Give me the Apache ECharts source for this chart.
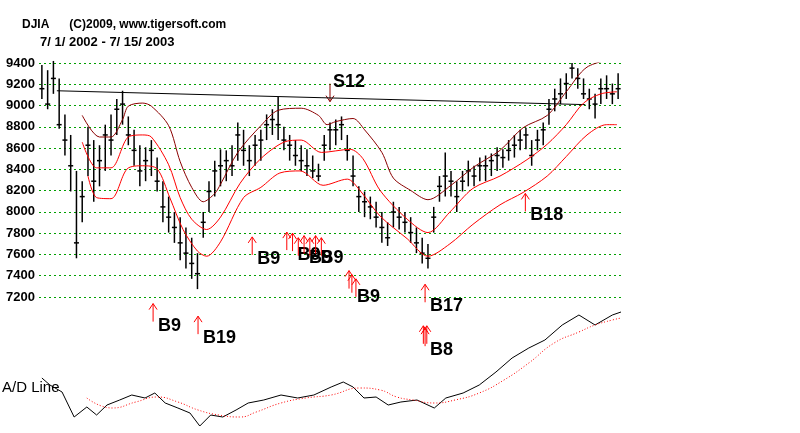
<!DOCTYPE html>
<html>
<head>
<meta charset="utf-8">
<script src="https://cdn.jsdelivr.net/npm/echarts@6/dist/echarts.min.js"></script>
<style>
  html, body { margin: 0; padding: 0; background: #fff; }
  #chart { width: 800px; height: 433px; }
</style>
</head>
<body>
<div id="chart"></div>
<script>
// DJIA daily bars, 7/1/2002 - 7/15/2003 (sampled), index = bar number
var highs = [9380, 9330, 9420, 9250, 8900, 8700, 8350, 8250, 8780, 8650,
  8600, 8800, 8900, 9050, 9130, 8880, 8750, 8600, 8580, 8650,
  8480, 8250, 8100, 7950, 7900, 7800, 7700, 7550, 7950, 8250,
  8450, 8560, 8550, 8600, 8820, 8750, 8600, 8700, 8750, 8900,
  8950, 9070, 8780, 8700, 8650, 8600, 8560, 8500, 8420, 8700,
  8820, 8850, 8880, 8700, 8500, 8200, 8150, 8100, 8050, 7950,
  7850, 8050, 8000, 7950, 7900, 7800, 7700, 7640, 8000, 8300,
  8530, 8350, 8250, 8350, 8450, 8400, 8480, 8500, 8520, 8580,
  8560, 8650, 8700, 8750, 8770, 8650, 8750, 8820, 9050, 9150,
  9250, 9300, 9400, 9350, 9250, 9150, 9100, 9250, 9280, 9200, 9300];
var lows = [9050, 8950, 9100, 8760, 8500, 8150, 7500, 7850, 8300, 8050,
  8200, 8350, 8500, 8700, 8800, 8600, 8400, 8200, 8250, 8300,
  8150, 7850, 7750, 7650, 7480, 7400, 7300, 7200, 7700, 7950,
  8100, 8200, 8250, 8300, 8450, 8400, 8300, 8400, 8450, 8650,
  8700, 8650, 8550, 8450, 8400, 8350, 8300, 8280, 8250, 8450,
  8550, 8600, 8650, 8450, 8200, 7950, 7900, 7880, 7800, 7650,
  7620, 7800, 7780, 7750, 7650, 7550, 7450, 7400, 7750, 8050,
  8100, 8100, 7950, 8150, 8200, 8200, 8250, 8250, 8300, 8350,
  8380, 8450, 8480, 8550, 8560, 8400, 8550, 8600, 8800, 8930,
  9000, 9050, 9250, 9150, 9050, 8950, 8860, 9000, 9050, 9000, 9050];
var closes = [9150, 9000, 9250, 8800, 8650, 8400, 7650, 8100, 8600, 8250,
  8450, 8700, 8650, 8950, 9000, 8700, 8550, 8350, 8450, 8550,
  8250, 8000, 7900, 7800, 7650, 7550, 7450, 7350, 7850, 8150,
  8350, 8400, 8450, 8400, 8700, 8550, 8450, 8600, 8650, 8800,
  8850, 8800, 8650, 8600, 8500, 8450, 8400, 8350, 8300, 8600,
  8750, 8750, 8800, 8550, 8300, 8100, 8050, 8000, 7900, 7800,
  7700, 7950, 7900, 7850, 7750, 7650, 7550, 7500, 7900, 8200,
  8300, 8250, 8100, 8250, 8350, 8300, 8400, 8400, 8450, 8500,
  8480, 8550, 8600, 8650, 8700, 8500, 8650, 8750, 8950, 9050,
  9100, 9200, 9350, 9250, 9100, 9050, 9000, 9150, 9150, 9100, 9150];

// bands: [bar index, price]
var upperBand = [[7, 8890], [10, 8680], [12, 8680], [14, 8850], [15, 8980], [17.5, 9010], [19, 8980],
  [22, 8790], [24, 8440], [26, 8190], [28, 8050], [30, 8130], [31, 8220], [34, 8530], [38, 8790],
  [41, 8940], [45, 8960], [48, 8890], [49.5, 8800], [51, 8830], [54, 8860], [56, 8750], [59, 8530],
  [61, 8280], [64, 8160], [67, 8070], [71, 8210], [75, 8390], [79.5, 8550], [83.5, 8770],
  [87.7, 8890], [91, 9120], [94.6, 9360], [99.8, 9450]];
var midBand = [[7, 8630], [9.5, 8380], [12, 8380], [15, 8680], [17.5, 8700], [19, 8680], [22, 8410],
  [24, 8090], [26, 7880], [28.6, 7780], [31, 7900], [34.4, 8230], [38, 8470], [42, 8630], [45, 8650],
  [48.5, 8530], [53.5, 8560], [55.7, 8470], [58.7, 8160], [63.4, 7880], [67, 7750], [70.8, 7950],
  [74.8, 8180], [79.5, 8300], [84.2, 8460], [87.7, 8610], [91, 8800], [94, 9010], [97, 9100], [99.8, 9120]];
var lowerBand = [[8, 8300], [9.5, 8090], [12, 8080], [14.8, 8370], [17.5, 8400], [20, 8370], [22.2, 8090],
  [24.5, 7780], [27, 7570], [28.6, 7520], [31, 7660], [35, 8090], [38, 8190], [41.3, 8330], [44.8, 8350],
  [48.8, 8210], [53, 8270], [55.2, 8160], [58.7, 7910], [63.4, 7690], [67, 7520], [70.8, 7640],
  [74.8, 7830], [79.5, 8020], [83.5, 8140], [87.7, 8300], [91, 8490], [94.6, 8700], [98, 8800], [99.8, 8800]];
var trendLine = [[2.6, 9130], [94.3, 8995]];

// signals: [bar index, arrow tip price, label, direction]
var signals = [
  [50, 9024, 'S12', 'down'],
  [19.3, 7059, 'B9', 'up'],
  [27.1, 6937, 'B19', 'up'],
  [36.5, 7708, 'B9', 'up'],
  [42.5, 7755, '', 'up'], [43.5, 7745, 'B9', 'up'], [44.5, 7700, '', 'up'], [45.5, 7720, 'B9', 'up'],
  [46.5, 7700, '', 'up'], [47.5, 7720, 'B9', 'up'], [48.5, 7700, '', 'up'],
  [53.3, 7380, '', 'up'], [53.8, 7340, 'B9', 'up'], [54.5, 7300, '', 'up'],
  [66.5, 7247, 'B17', 'up'],
  [66.2, 6843, '', 'up'], [66.5, 6820, 'B8', 'up'], [66.8, 6843, '', 'up'],
  [83.9, 8131, 'B18', 'up']
];

// A/D line (arbitrary units) and its moving average: [bar index, value]
var adLine = [[0, 550], [1.4, 480], [3.5, 410], [5.6, 160], [7.8, 260], [9.5, 180], [11.3, 280],
  [13.5, 330], [15.6, 380], [17.9, 350], [19.6, 400], [21.4, 300], [23.6, 250], [25.7, 200],
  [27.4, 70], [29.3, 180], [31.4, 160], [33.7, 230], [35.8, 300], [38.5, 330], [41.5, 380],
  [44.4, 350], [47.2, 380], [50.2, 460], [52.3, 510], [54, 460], [55.9, 350], [58, 360],
  [60.1, 280], [62.3, 310], [65.1, 330], [68.1, 250], [70.1, 350], [73.1, 400], [75.9, 480],
  [78.8, 610], [81.6, 750], [84.5, 850], [87.3, 930], [90.3, 1080], [93.2, 1180], [96, 1080],
  [99, 1180], [100.5, 1210]];
var adAvg = [[7.8, 350], [12.2, 250], [16.3, 310], [20, 360], [23.6, 310], [27.1, 230], [30.7, 180],
  [34.4, 160], [37.2, 210], [41.5, 300], [45.8, 350], [50.2, 380], [55.2, 450], [58.7, 430],
  [61.6, 360], [64.4, 330], [68.1, 300], [71.7, 330], [75.9, 400], [80.2, 530], [84.5, 700],
  [88.9, 900], [93.2, 1010], [96, 1080], [99, 1130], [100.5, 1150]];

var priceTicks = [7200, 9400];

var barData = closes.map(function (c, i) { return [i, highs[i], lows[i], c]; });

var chart = echarts.init(document.getElementById('chart'));

var option = {
  backgroundColor: '#fff',
  animation: false,
  grid: [
    { left: 39, right: 179, top: 63, height: 234 },
    { left: 39, right: 179, top: 63, height: 383 },
    { left: 39, right: 179, top: 300, height: 133 }
  ],
  xAxis: [
    { gridIndex: 0, type: 'value', min: -0.5, max: 100.5, show: false },
    { gridIndex: 1, type: 'value', min: -0.5, max: 100.5, show: false },
    { gridIndex: 2, type: 'value', min: -0.5, max: 100.5, show: false }
  ],
  yAxis: [
    {
      gridIndex: 0, type: 'value', min: priceTicks[0], max: priceTicks[1], interval: 200,
      axisLine: { show: false }, axisTick: { show: false },
      axisLabel: {
        color: '#000', fontWeight: 'bold', fontSize: 13, fontFamily: 'Liberation Sans', margin: 4,
        formatter: function (v) { return String(v); }
      },
      splitLine: { lineStyle: { color: '#00a000', type: [2, 3], width: 1 } }
    },
    { gridIndex: 1, type: 'value', min: 5800, max: 9400, show: false },
    { gridIndex: 2, type: 'value', min: 0, max: 1330, show: false }
  ],
  graphic: [
    { type: 'text', left: 22, top: 19, style: { text: 'DJIA      (C)2009, www.tigersoft.com', font: 'bold 12px "Liberation Sans"', fill: '#000' } },
    { type: 'text', left: 40, top: 36, style: { text: '7/ 1/ 2002 - 7/ 15/ 2003', font: 'bold 13px "Liberation Sans"', fill: '#000' } },
    { type: 'text', left: 2, top: 380, style: { text: 'A/D Line', font: '15px "Liberation Sans"', fill: '#000' } }
  ],
  series: [
    {
      type: 'line', xAxisIndex: 1, yAxisIndex: 1, data: trendLine, symbol: 'none',
      lineStyle: { color: '#000', width: 1 }
    },
    {
      type: 'line', xAxisIndex: 1, yAxisIndex: 1, data: upperBand, symbol: 'none', smooth: 0.3,
      lineStyle: { color: '#8b0000', width: 1 }
    },
    {
      type: 'line', xAxisIndex: 1, yAxisIndex: 1, data: midBand, symbol: 'none', smooth: 0.3,
      lineStyle: { color: '#ff0000', width: 1 }
    },
    {
      type: 'line', xAxisIndex: 1, yAxisIndex: 1, data: lowerBand, symbol: 'none', smooth: 0.3,
      lineStyle: { color: '#ff0000', width: 1 }
    },
    {
      type: 'custom', xAxisIndex: 1, yAxisIndex: 1, data: barData,
      renderItem: function (params, api) {
        var hi = api.coord([api.value(0), api.value(1)]);
        var lo = api.coord([api.value(0), api.value(2)]);
        var cl = api.coord([api.value(0), api.value(3)]);
        var st = { stroke: '#000', lineWidth: 1.5 };
        return {
          type: 'group', children: [
            { type: 'line', shape: { x1: hi[0], y1: hi[1], x2: lo[0], y2: lo[1] }, style: st },
            { type: 'line', shape: { x1: cl[0] - 2.5, y1: cl[1], x2: cl[0] + 2.5, y2: cl[1] }, style: st }
          ]
        };
      }
    },
    {
      type: 'custom', xAxisIndex: 1, yAxisIndex: 1, data: signals,
      renderItem: function (params, api) {
        var p = api.coord([api.value(0), api.value(1)]);
        var s = signals[params.dataIndex];
        var down = s[3] === 'down';
        var col = down ? '#8b0000' : '#ff0000';
        var st = { stroke: col, lineWidth: 1 };
        var tail = down ? p[1] - 18 : p[1] + 18;
        var hy = down ? p[1] - 6 : p[1] + 6;
        var kids = [
          { type: 'line', shape: { x1: p[0], y1: p[1], x2: p[0], y2: tail }, style: st },
          { type: 'polyline', shape: { points: [[p[0] - 4, hy], [p[0], p[1]], [p[0] + 4, hy]] }, style: { stroke: col, lineWidth: 1, fill: null } }
        ];
        if (s[2]) {
          kids.push({
            type: 'text', x: p[0] + (down ? 3 : 5), y: down ? p[1] - 29 : p[1] + 13,
            style: { text: s[2], font: 'bold 18px "Liberation Sans"', fill: '#000' }
          });
        }
        return { type: 'group', children: kids };
      }
    },
    {
      type: 'line', xAxisIndex: 2, yAxisIndex: 2, data: adLine, symbol: 'none',
      lineStyle: { color: '#000', width: 1 }
    },
    {
      type: 'line', xAxisIndex: 2, yAxisIndex: 2, data: adAvg, symbol: 'none', smooth: true,
      lineStyle: { color: '#ff0000', width: 1, type: [1, 2] }
    }
  ]
};

chart.setOption(option);
</script>
</body>
</html>
